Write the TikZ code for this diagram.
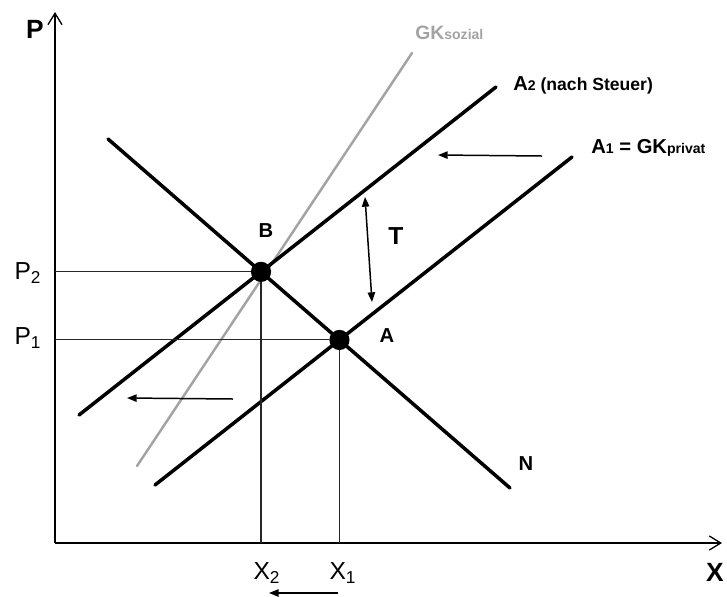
\documentclass[tikz,border=0pt]{standalone}
\usepackage{fontspec}
\setmainfont{Liberation Sans}
\usepackage{tikz}
\usetikzlibrary{arrows.meta}

\definecolor{socialgray}{HTML}{A3A3A3}
\newcommand{\subtxt}[1]{{\fontsize{8}{9}\selectfont #1}}

\begin{document}
\begin{tikzpicture}[x=0.02cm, y=-0.02cm,
    curve/.style={line width=2pt, line cap=round},
    guide/.style={line width=0.6pt, black!85},
    shiftarrow/.style={line width=0.85pt, -{Triangle[length=5.5pt,width=4.2pt]}},
    dot/.style={circle, fill=black, inner sep=0pt, minimum size=11.5pt},
    lbl/.style={font=\fontsize{11.5}{13}\selectfont\bfseries},
    ticklbl/.style={font=\fontsize{14}{16}\selectfont}]
    \useasboundingbox (0,0) rectangle (727,596);
    % Axes
    \coordinate (O) at (55,543);
    \coordinate (Ptop) at (55,12);
    \coordinate (Xend) at (722,543);
    \draw[line width=0.75pt, -{Straight Barb[length=6.5pt,width=8pt]}] (O) -- (Ptop);
    \draw[line width=0.75pt, -{Straight Barb[length=6.5pt,width=8pt]}] (O) -- (Xend);
    \node[lbl, font=\fontsize{15}{17}\selectfont\bfseries] (Plab) at (35,29) {P};
    \node[lbl, font=\fontsize{15}{17}\selectfont\bfseries] (Xlab) at (715,572) {X};
    % Supply, demand and social cost lines
    \coordinate (N1) at (108,139);  \coordinate (N2) at (510,488);
    \coordinate (A2s) at (79,415);  \coordinate (A2e) at (496,87);
    \coordinate (A1s) at (155,485); \coordinate (A1e) at (572,157);
    \coordinate (GKs) at (137,466); \coordinate (GKe) at (412,53);
    \draw[curve, socialgray, line width=1.4pt] (GKs) -- (GKe);
    \foreach \s/\e in {N1/N2, A2s/A2e, A1s/A1e} {
        \draw[curve] (\s) -- (\e);
    }
    % Equilibria
    \node[dot] (B) at (intersection of N1--N2 and A2s--A2e) {};
    \node[dot] (A) at (intersection of N1--N2 and A1s--A1e) {};
    \draw[guide] (O |- B) -- (B) -- (B |- O);
    \draw[guide] (O |- A) -- (A) -- (A |- O);
    \node[ticklbl] (P2) at (28,273) {P\textsubscript{2}};
    \node[ticklbl] (P1) at (28,338) {P\textsubscript{1}};
    \node[ticklbl] (X2) at (267,573) {X\textsubscript{2}};
    \node[ticklbl] (X1) at (343,573) {X\textsubscript{1}};
    % Labels
    \node[lbl] (Blab) at (266,231) {B};
    \node[lbl] (Alab) at (387,336) {A};
    \node[lbl] (Nlab) at (526,464) {N};
    \node[lbl, font=\fontsize{14}{16}\selectfont\bfseries] (Tlab) at (396,236) {T};
    \node[lbl, anchor=west, inner sep=0pt] (A2lab) at (513,85)
        {\fontsize{11.5}{13}\selectfont A\subtxt{2}\fontsize{10}{12}\selectfont{} (nach Steuer)};
    \node[lbl, anchor=west, inner sep=0pt] (A1lab) at (591,148)
        {\fontsize{11.5}{13}\selectfont A\subtxt{1} = GK\subtxt{privat}};
    \node[lbl, anchor=west, inner sep=0pt, socialgray] (GKlab) at (415,33)
        {\fontsize{11}{13}\selectfont GK\subtxt{sozial}};
    % Tax wedge and shifts
    \coordinate (Ttop) at (365,197);
    \coordinate (Tbot) at (372,302);
    \draw[line width=0.85pt, {Triangle[length=5.5pt,width=4.2pt]}-{Triangle[length=5.5pt,width=4.2pt]}] (Ttop) -- (Tbot);
    \coordinate (S1a) at (542,156); \coordinate (S1b) at (438,155);
    \coordinate (S2a) at (233,399); \coordinate (S2b) at (127,398);
    \coordinate (S3a) at (338,593); \coordinate (S3b) at (269,593);
    \foreach \a/\b in {S1a/S1b, S2a/S2b, S3a/S3b} {
        \draw[shiftarrow] (\a) -- (\b);
    }
\end{tikzpicture}
\end{document}
